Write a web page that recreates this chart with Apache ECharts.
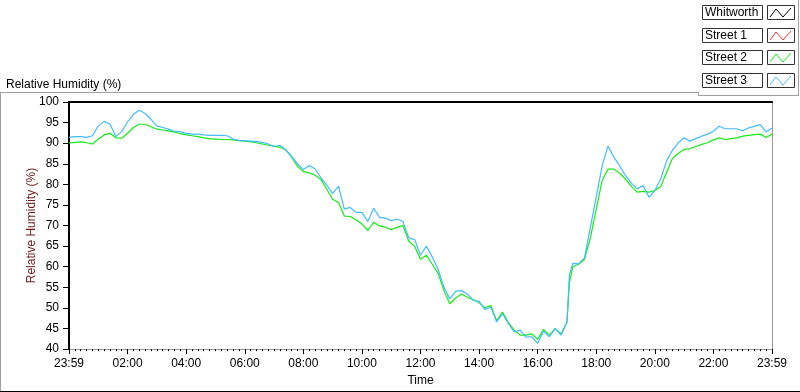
<!DOCTYPE html>
<html>
<head>
<meta charset="utf-8">
<script src="https://cdn.jsdelivr.net/npm/echarts@6/dist/echarts.min.js"></script>
<style>
  html, body { margin: 0; padding: 0; background: #fff; }
  #chart { width: 800px; height: 392px; }
</style>
</head>
<body>
<div id="chart"></div>
<script>
// 图例名称和颜色
var seriesNames = ['Whitworth', 'Street 1', 'Street 2', 'Street 3'];
var seriesColors = ['#000000', '#ff3333', '#14ec14', '#45bbff'];

// 时间（从 23:59 起的分钟数，大致每 12 分钟一个点）
var minutes = [
  0, 12, 24, 36, 48, 60, 72, 84, 96, 108, 120, 132, 144, 156, 168, 180, 192, 204, 216, 228,
  240, 252, 264, 276, 288, 300, 312, 324, 336, 348, 360, 372, 384, 396, 408, 420, 432, 444, 456, 468,
  480, 492, 504, 516, 528, 540, 552, 564, 576, 588, 600, 612, 624, 636, 648, 660, 672, 684, 696, 708,
  720, 732, 744, 756, 768, 780, 792, 804, 816, 828, 840, 852, 864, 876, 888, 900, 912, 924, 936, 948,
  960, 972, 984, 996, 1008, 1020, 1025, 1032, 1044, 1056, 1068, 1080, 1092, 1104, 1116, 1128, 1140, 1152, 1164, 1176, 1188,
  1200, 1212, 1224, 1236, 1248, 1260, 1272, 1284, 1296, 1308, 1320, 1332, 1344, 1356, 1368, 1380, 1392, 1404, 1416, 1428,
  1440
];

// 坐标轴刻度标签
var xTickLabels = ['23:59', '02:00', '04:00', '06:00', '08:00', '10:00', '12:00',
                   '14:00', '16:00', '18:00', '20:00', '22:00', '23:59'];

// 各站点数据（%）
var whitworth = [];
var street1 = [];
var street2 = [
  90.0, 90.2, 90.3, 90.1, 89.8, 91.0, 92.0, 92.4, 91.3, 91.2, 92.4, 93.8, 94.6, 94.6, 94.0, 93.4, 93.2, 93.0, 92.7, 92.3, 92.0, 91.8, 91.6, 91.3, 91.1,
  91.0, 90.9, 90.9, 90.8, 90.6, 90.5, 90.3, 90.1, 89.8, 89.5, 89.3, 89.0, 88.4, 86.6, 84.4, 83.1, 82.8, 82.2, 81.2, 78.8, 76.4, 75.6, 72.3, 72.2, 71.4,
  70.4, 68.8, 70.8, 69.9, 69.6, 69.0, 69.6, 70.0, 66.2, 65.0, 61.8, 62.8, 60.6, 58.4, 54.2, 51.0, 52.4, 53.4, 52.6, 52.0, 51.3, 50.0, 50.6, 46.9, 49.0,
  46.4, 44.6, 43.4, 43.4, 43.7, 42.4, 44.8, 43.4, 45.0, 43.7, 46.5, 56.0, 60.0, 60.6, 61.8, 67.0, 74.0, 80.9, 83.7, 83.7, 82.7, 81.3, 79.5, 78.1, 78.3, 78.1,
  78.5, 79.5, 82.9, 86.3, 87.5, 88.5, 88.7, 89.2, 89.7, 90.1, 90.8, 91.3, 90.9, 91.1, 91.3, 91.7, 91.9, 92.1, 92.2, 91.4, 92.2
];
var street3 = [
  91.4, 91.6, 91.6, 91.4, 91.8, 94.2, 95.3, 94.6, 91.6, 92.8, 95.2, 97.0, 98.0, 97.2, 95.8, 94.2, 93.8, 93.4, 92.9, 92.8, 92.4, 92.2, 92.2, 92.0, 91.9,
  91.9, 91.9, 91.8, 91.0, 90.7, 90.6, 90.5, 90.4, 90.2, 89.8, 89.2, 89.5, 88.4, 86.8, 85.0, 83.6, 84.6, 83.8, 81.6, 79.8, 77.8, 79.6, 74.0, 74.4, 73.2,
  73.2, 71.0, 74.2, 72.0, 71.8, 71.2, 71.6, 71.0, 67.0, 66.6, 62.8, 65.0, 62.4, 59.4, 55.0, 52.2, 54.0, 54.2, 53.4, 51.8, 51.6, 49.6, 50.2, 46.6, 48.6,
  46.2, 44.2, 44.6, 42.9, 43.0, 41.4, 44.4, 43.0, 45.0, 43.4, 46.5, 58.0, 60.8, 60.7, 62.2, 69.6, 77.0, 84.5, 89.3, 86.6, 84.5, 82.1, 80.3, 78.9, 79.7, 76.9,
  78.5, 81.3, 85.7, 88.3, 90.1, 91.3, 90.5, 91.1, 91.7, 92.2, 92.9, 94.1, 93.5, 93.5, 93.5, 93.0, 93.7, 94.1, 94.5, 92.7, 93.7
];

var FONT = 'Liberation Sans';

function pairs(vals) {
  return vals.map(function (v, i) { return [minutes[i], v]; });
}

// 自己画一个 LabVIEW 风格的图例
function legendGraphics() {
  var items = [];
  var rowTops = [5, 28, 50, 73];
  seriesNames.forEach(function (name, i) {
    var y = rowTops[i];
    items.push({ type: 'rect', shape: { x: 702.5, y: y + 0.5, width: 60, height: 14 },
      style: { fill: '#fff', stroke: '#333', lineWidth: 1 } });
    items.push({ type: 'text', style: { text: name, x: 705, y: y + 8, fill: '#000',
      font: '12px "' + FONT + '"', verticalAlign: 'middle' } });
    items.push({ type: 'rect', shape: { x: 767.5, y: y + 0.5, width: 27, height: 14 },
      style: { fill: '#fff', stroke: '#333', lineWidth: 1 } });
    items.push({ type: 'polyline', shape: { points: [[770, y + 12], [776, y + 4], [783, y + 12], [791, y + 3]] },
      style: { stroke: seriesColors[i], lineWidth: 1, fill: null } });
  });
  // 外框
  items.push({ type: 'line', shape: { x1: 0, y1: 92.5, x2: 698, y2: 92.5 }, style: { stroke: '#a0a0a0', lineWidth: 1 } });
  items.push({ type: 'line', shape: { x1: 0.5, y1: 92, x2: 0.5, y2: 392 }, style: { stroke: '#a0a0a0', lineWidth: 1 } });
  items.push({ type: 'line', shape: { x1: 0, y1: 391.5, x2: 800, y2: 391.5 }, style: { stroke: '#000', lineWidth: 1 } });
  items.push({ type: 'line', shape: { x1: 798.5, y1: 0, x2: 798.5, y2: 96 }, style: { stroke: '#a0a0a0', lineWidth: 1 } });
  items.push({ type: 'line', shape: { x1: 698.5, y1: 92, x2: 698.5, y2: 96 }, style: { stroke: '#a0a0a0', lineWidth: 1 } });
  items.push({ type: 'line', shape: { x1: 698, y1: 95.5, x2: 799, y2: 95.5 }, style: { stroke: '#a0a0a0', lineWidth: 1 } });
  return items;
}

var chart = echarts.init(document.getElementById('chart'));

var option = {
  animation: false,
  backgroundColor: '#fff',
  textStyle: { fontFamily: FONT },
  title: {
    text: 'Relative Humidity (%)',
    left: 1, top: 74,
    textStyle: { fontSize: 12, fontWeight: 'normal', color: '#000', fontFamily: FONT }
  },
  grid: { left: 69, top: 102, width: 703, height: 251 },
  xAxis: [{
    type: 'value',
    min: 0, max: 1440, interval: 120,
    name: 'Time', nameLocation: 'middle', nameGap: 25,
    nameTextStyle: { fontSize: 12, color: '#000' },
    axisLine: { show: true, lineStyle: { color: '#999', width: 1 } },
    axisTick: { show: true, length: 5, lineStyle: { color: '#000' } },
    minorTick: { show: true, splitNumber: 10, length: 2, lineStyle: { color: '#000' } },
    splitLine: { show: false },
    axisLabel: {
      fontSize: 12, color: '#000', margin: 9,
      formatter: function (v) { return xTickLabels[Math.round(v / 120)]; }
    }
  }, {
    type: 'value', position: 'top', min: 0, max: 1440,
    axisLine: { show: true, onZero: false, lineStyle: { color: '#000', width: 2 } },
    axisTick: { show: false }, axisLabel: { show: false }, splitLine: { show: false }
  }],
  yAxis: [{
    type: 'value',
    min: 40, max: 100, interval: 5,
    name: 'Relative Humidity (%)', nameLocation: 'middle', nameGap: 31,
    nameMoveOverlap: false,
    nameTextStyle: { fontSize: 12, color: '#701818' },
    axisLine: { show: true, lineStyle: { color: '#000', width: 2 } },
    axisTick: { show: true, length: 6, lineStyle: { color: '#000' } },
    splitLine: { show: false },
    axisLabel: { fontSize: 12, color: '#000', margin: 10 }
  }, {
    type: 'value', position: 'right', min: 40, max: 100,
    axisLine: { show: true, onZero: false, lineStyle: { color: '#999', width: 1 } },
    axisTick: { show: false }, axisLabel: { show: false }, splitLine: { show: false }
  }],
  graphic: legendGraphics(),
  series: [
    { name: seriesNames[0], type: 'line', data: pairs(whitworth) },
    { name: seriesNames[1], type: 'line', data: pairs(street1) },
    { name: seriesNames[2], type: 'line', data: pairs(street2) },
    { name: seriesNames[3], type: 'line', data: pairs(street3) }
  ].map(function (s, i) {
    s.showSymbol = false;
    s.symbol = 'none';
    s.color = seriesColors[i];
    s.lineStyle = { width: 1.2, color: seriesColors[i] };
    return s;
  })
};

chart.setOption(option);
</script>
</body>
</html>
